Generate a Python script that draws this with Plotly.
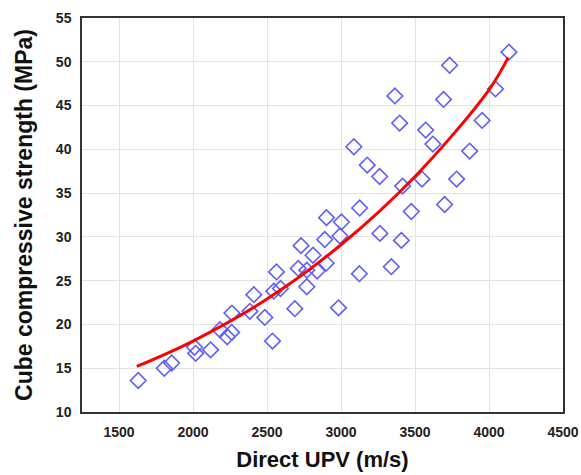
import plotly.graph_objects as go

# Measured data points (Direct UPV in m/s, cube compressive strength in MPa)
upv = [1630, 1806, 1856, 2010, 2018, 2119, 2182, 2231, 2261, 2263,
       2384, 2411, 2485, 2537, 2564, 2546, 2591, 2688, 2711, 2769,
       2730, 2769, 2811, 2839, 2890, 2900, 2902, 2983, 3003, 2993,
       3126, 3124, 3087, 3177, 3261, 3263, 3340, 3408, 3416, 3475,
       3364, 3396, 3572, 3621, 3547, 3693, 3700, 3734, 3781, 3869,
       3954, 4044, 4135]
strength = [13.6, 15.0, 15.6, 17.4, 16.7, 17.1, 19.4, 18.6, 19.1, 21.3,
            21.5, 23.4, 20.8, 18.1, 26.0, 23.8, 24.1, 21.8, 26.4, 26.2,
            29.0, 24.3, 27.9, 26.1, 29.7, 27.0, 32.2, 21.9, 31.7, 30.1,
            33.3, 25.8, 40.3, 38.2, 36.9, 30.4, 26.6, 29.6, 35.8, 32.9,
            46.1, 43.0, 42.2, 40.6, 36.6, 45.7, 33.7, 49.6, 36.6, 39.8,
            43.3, 46.9, 51.1]

# Trend curve
fit_x = [1620, 2000, 2500, 3000, 3500, 4000, 4130]
fit_y = [15.2, 18.1, 22.9, 29.1, 36.9, 46.8, 50.5]

x_ticks = [1500, 2000, 2500, 3000, 3500, 4000, 4500]
y_ticks = [10, 15, 20, 25, 30, 35, 40, 45, 50, 55]

fig = go.Figure()
fig.add_trace(go.Scatter(
    x=upv, y=strength, mode="markers",
    marker=dict(symbol="diamond-open", size=12,
                color="rgb(95,95,245)", line=dict(width=1.6, color="rgb(95,95,245)")),
    showlegend=False, hoverinfo="x+y"))
fig.add_trace(go.Scatter(
    x=fit_x, y=fit_y, mode="lines", line=dict(color="red", width=3, shape="spline"),
    showlegend=False))

tickfont = dict(family="Liberation Sans, Arial, sans-serif", size=14, color="#222")
xtitlefont = dict(family="Liberation Sans, Arial, sans-serif", size=22, color="#111")
ytitlefont = dict(family="Liberation Sans, Arial, sans-serif", size=23, color="#111")

fig.update_layout(
    width=581, height=475,
    margin=dict(l=82, r=18, t=18, b=63, autoexpand=False),
    paper_bgcolor="white", plot_bgcolor="white",
    xaxis=dict(range=[1250, 4500], tickvals=x_ticks,
               ticktext=["<b>%d</b>" % v for v in x_ticks],
               tickfont=tickfont, showgrid=True, gridcolor="#e3e3e3", gridwidth=1,
               zeroline=False, showline=True, mirror=True, linecolor="#333", linewidth=1.5,
               ticks="", ticklabelstandoff=6, automargin=False,
               title=dict(text="<b>Direct UPV (m/s)</b>", font=xtitlefont, standoff=13)),
    yaxis=dict(range=[10, 55], tickvals=y_ticks,
               ticktext=["<b>%d</b>" % v for v in y_ticks],
               tickfont=tickfont, showgrid=True, gridcolor="#e3e3e3", gridwidth=1,
               zeroline=False, showline=True, mirror=True, linecolor="#333", linewidth=1.5,
               ticks="", ticklabelstandoff=6, automargin=False,
               title=dict(text="<b>Cube compressive strength (MPa)</b>", font=ytitlefont, standoff=17)),
)

fig.write_html("out.html", config={"displayModeBar": False},
               post_script="document.body.style.margin='0';document.body.style.overflow='hidden';")
